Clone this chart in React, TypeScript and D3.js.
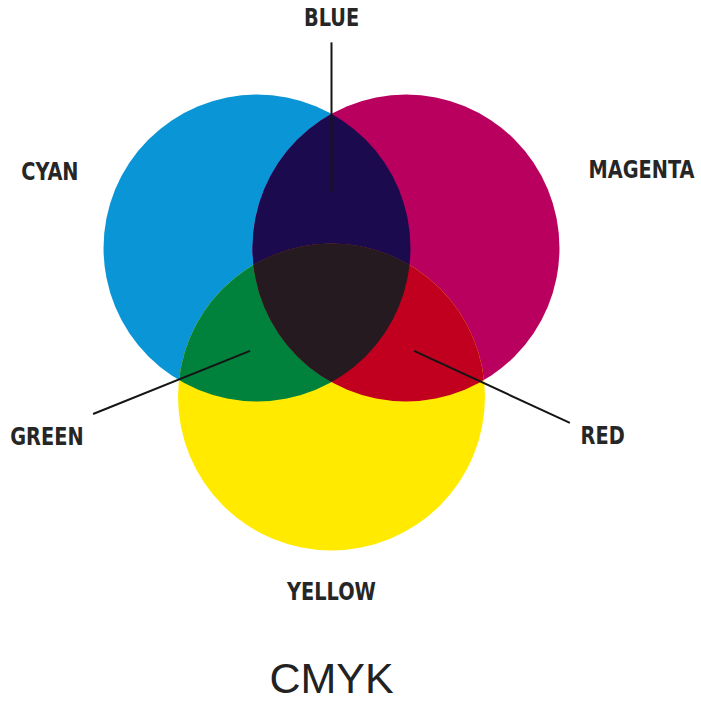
import React, { useEffect, useRef } from "react";
import * as d3 from "d3";

// process colours (the three inks)
const inks = ["CYAN", "MAGENTA", "YELLOW"];
const inkColors = ["#0a96d6", "#b9005f", "#ffea00"];
// circle centres in diagram units (1 unit = distance between neighbouring centres)
const inkX = [-0.5, 0.5, 0];
const inkY = [0, 0, 1];
const inkR = 1.03;

// overlaps: which inks are mixed and what colour results
const mixes = ["BLUE", "GREEN", "RED", "BLACK"];
const mixInks = [["CYAN", "MAGENTA"], ["CYAN", "YELLOW"], ["MAGENTA", "YELLOW"], ["CYAN", "MAGENTA", "YELLOW"]];
const mixColors = ["#1c0a4f", "#00813c", "#c1001f", "#241a1f"];

// labels (text centre in diagram units) and leader lines
const labelText = ["BLUE", "CYAN", "MAGENTA", "GREEN", "RED", "YELLOW"];
const labelX = [0, -1.89, 2.08, -1.91, 1.82, 0];
const labelY = [-1.55, -0.52, -0.53, 1.26, 1.255, 2.3];
const leaders = [
  { from: [0, -1.38], to: [0, -0.376] },
  { from: [-1.6, 1.114], to: [-0.547, 0.69] },
  { from: [0.554, 0.69], to: [1.6, 1.174] },
];

const title = "CMYK";

function App() {
  const svgRef = useRef(null);
  const width = 701;
  const height = 707;

  useEffect(() => {
    const svg = d3.select(svgRef.current);
    svg.selectAll("*").remove();

    // 149 px per unit
    const x = d3.scaleLinear().domain([-0.5, 0.5]).range([257, 406]);
    const y = d3.scaleLinear().domain([0, 1]).range([248, 397]);
    const r = x(inkR) - x(0);

    const defs = svg.append("defs");
    inks.forEach((name, i) => {
      defs.append("clipPath")
        .attr("id", "clip-" + name)
        .append("circle")
        .attr("cx", x(inkX[i]))
        .attr("cy", y(inkY[i]))
        .attr("r", r);
    });

    // base circles
    svg.selectAll("circle.ink")
      .data(inks)
      .enter()
      .append("circle")
      .attr("class", "ink")
      .attr("cx", (d, i) => x(inkX[i]))
      .attr("cy", (d, i) => y(inkY[i]))
      .attr("r", r)
      .attr("fill", (d, i) => inkColors[i]);

    // overlaps: draw last circle nested inside clip groups of the others
    mixes.forEach((m, k) => {
      const set = mixInks[k];
      let g = svg.append("g");
      set.slice(0, -1).forEach((name) => {
        g = g.attr("clip-path", `url(#clip-${name})`).append("g");
      });
      const last = inks.indexOf(set[set.length - 1]);
      g.append("circle")
        .attr("cx", x(inkX[last]))
        .attr("cy", y(inkY[last]))
        .attr("r", r)
        .attr("fill", mixColors[k]);
    });

    // leader lines
    svg.selectAll("line.leader")
      .data(leaders)
      .enter()
      .append("line")
      .attr("class", "leader")
      .attr("x1", (d) => x(d.from[0]))
      .attr("y1", (d) => y(d.from[1]))
      .attr("x2", (d) => x(d.to[0]))
      .attr("y2", (d) => y(d.to[1]))
      .attr("stroke", "#151515")
      .attr("stroke-width", 2);

    // condensed look: squeeze the bold sans horizontally
    svg.selectAll("text.label")
      .data(labelText)
      .enter()
      .append("text")
      .attr("class", "label")
      .attr("transform", (d, i) => `translate(${x(labelX[i])},${y(labelY[i])}) scale(0.86,1)`)
      .attr("dy", "0.36em")
      .attr("text-anchor", "middle")
      .attr("font-family", "'DejaVu Sans Condensed', 'Open Sans', sans-serif")
      .attr("font-weight", "bold")
      .attr("font-size", 25)
      .attr("fill", "#262626")
      .text((d) => d);

    svg.append("text")
      .attr("x", x(0))
      .attr("y", 693)
      .attr("text-anchor", "middle")
      .attr("font-family", "'Liberation Sans', Arial, sans-serif")
      .attr("font-size", 43)
      .attr("fill", "#222")
      .text(title);
  }, []);

  return (
    <svg
      ref={svgRef}
      width={width}
      height={height}
      style={{ position: "absolute", left: 0, top: 0, background: "#fff" }}
    />
  );
}

export default App;
